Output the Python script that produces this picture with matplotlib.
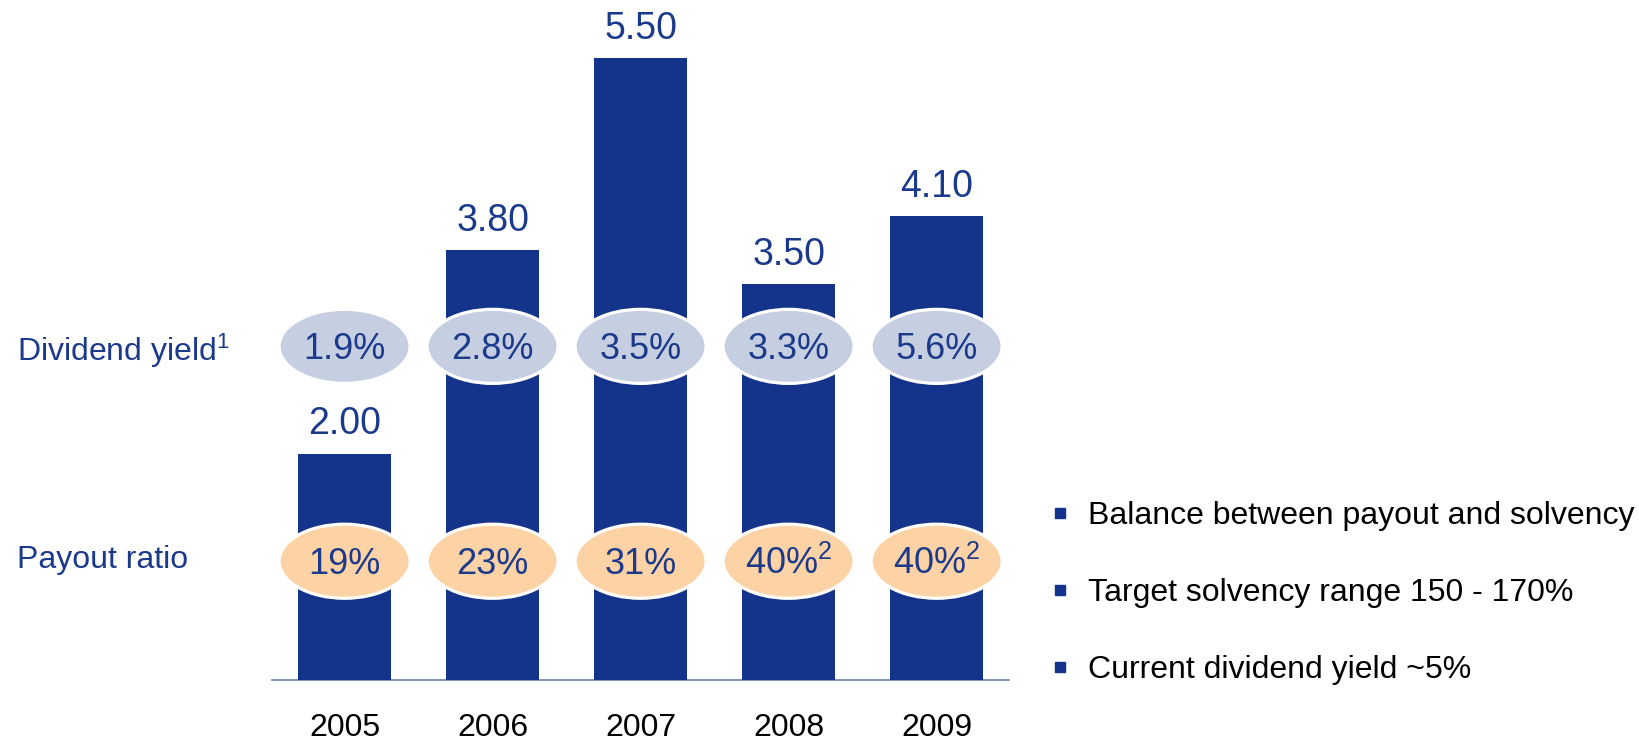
import matplotlib
matplotlib.use("Agg")
import matplotlib.pyplot as plt
from matplotlib.patches import Ellipse
from matplotlib.lines import Line2D

plt.rcParams['font.family'] = ['Liberation Sans', 'DejaVu Sans']
plt.rcParams['mathtext.fontset'] = 'custom'
plt.rcParams['mathtext.rm'] = 'Liberation Sans'
plt.rcParams['mathtext.default'] = 'regular'

years = ['2005', '2006', '2007', '2008', '2009']
dividend = [2.00, 3.80, 5.50, 3.50, 4.10]
div_yield = ['1.9%', '2.8%', '3.5%', '3.3%', '5.6%']
payout = ['19%', '23%', '31%', '40%$^{2}$', '40%$^{2}$']
bullets = ['Balance between payout and solvency',
           'Target solvency range 150 - 170%',
           'Current dividend yield ~5%']

navy = '#13348a'
text_navy = '#1c3a8c'
lavender = '#c6cee1'
peach = '#fdd3a6'

fig = plt.figure(figsize=(16.39, 7.43), dpi=100)
ax = fig.add_axes([0.166, 0.0848, 0.4497, 0.9133])

x = list(range(len(years)))
ax.bar(x, dividend, width=0.63, color=navy, zorder=2)

for xi, v in zip(x, dividend):
    ax.annotate(f'{v:.2f}', (xi, v), xytext=(0, 14), textcoords='offset points',
                ha='center', va='baseline', fontsize=27, color=text_navy)

# ellipses for dividend yield and payout ratio
yield_row = 2.95
payout_row = 1.05
for xi, dy, po in zip(x, div_yield, payout):
    for row, lab, col in [(yield_row, dy, lavender), (payout_row, po, peach)]:
        ax.add_patch(Ellipse((xi, row), 0.885, 0.655, facecolor=col,
                             edgecolor='white', linewidth=2.3, zorder=3))
        ax.annotate(lab, (xi, row), xytext=(0, -9), textcoords='offset points',
                    ha='center', va='baseline', fontsize=26, color=text_navy, zorder=4)

ax.set_xlim(-0.49, 4.49)
ax.set_ylim(0, 6.0)
ax.set_xticks(x)
ax.set_xticklabels(years, fontsize=23, color='black')
ax.tick_params(axis='x', length=0, pad=24)
ax.set_yticks([])
for s in ['top', 'right', 'left']:
    ax.spines[s].set_visible(False)
ax.spines['bottom'].set_color('#5f73a0')
ax.spines['bottom'].set_linewidth(1.1)
ax.spines['bottom'].set_zorder(1)

# row labels on the left
H = 743
fig.text(16.7 / 1639, 1 - 361.5 / H, 'Dividend yield$^{1}$', fontsize=23,
         color=text_navy, va='baseline', ha='left')
fig.text(16.7 / 1639, 1 - 568 / H, 'Payout ratio', fontsize=23,
         color=text_navy, va='baseline', ha='left')

# bullet points
for i, b in enumerate(bullets):
    yc = 513 + i * 77
    fig.add_artist(Line2D([1060 / 1639], [1 - yc / H], marker='s', markersize=6.5,
                          color=navy, transform=fig.transFigure))
    fig.text(1088 / 1639, 1 - (yc + 11) / H, b, fontsize=23, color='black',
             va='baseline', ha='left')

fig.savefig('out.png', dpi=100)
